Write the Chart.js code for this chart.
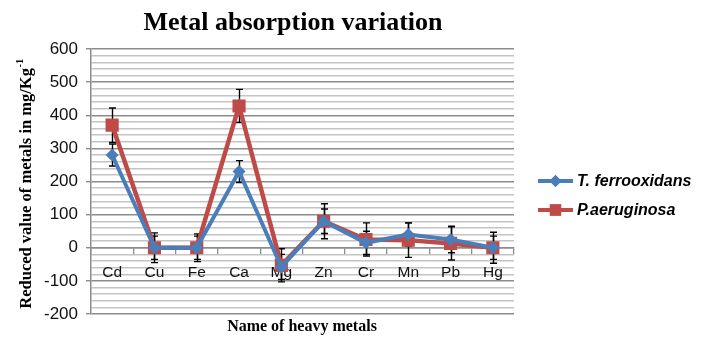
<!DOCTYPE html>
<html>
<head>
<meta charset="utf-8">
<script src="https://cdn.jsdelivr.net/npm/chart.js@4"></script>
<style>
html,body{margin:0;padding:0;background:#fff;}
#wrap{width:707px;height:345px;position:relative;}
</style>
</head>
<body>
<div id="wrap"><canvas id="c" width="707" height="345"></canvas></div>
<script>
const categories = ['Cd','Cu','Fe','Ca','Mg','Zn','Cr','Mn','Pb','Hg'];
const tFerroValues = [280, 0, 0, 230, -58, 80, 15, 40, 25, 0];
const pAeruValues  = [370, 0, 0, 428, -53, 80, 25, 23, 13, 0];
const tFerroErr = [33, 35, 35, 33, 38, 37, 35, 35, 40, 35];
const pAeruErr  = [52, 45, 42, 50, 50, 53, 50, 52, 50, 47];
const seriesNames = ['T. ferrooxidans', 'P.aeruginosa'];
const chartTitle = 'Metal absorption variation';
const xTitle = 'Name of heavy metals';
const yTitleMain = 'Reduced value of metals in mg/Kg';
const yTitleSup = '-1';

const BLUE = '#4A7EBB', RED = '#BE4B48';

const extras = {
  id: 'extras',
  beforeDatasetsDraw(chart) {
    const ctx = chart.ctx, y = chart.scales.y;
    const errs = [tFerroErr, pAeruErr];
    const vals = [tFerroValues, pAeruValues];
    ctx.save();
    ctx.strokeStyle = '#000';
    ctx.lineWidth = 1.4;
    for (let d = 0; d < 2; d++) {
      const meta = chart.getDatasetMeta(d);
      meta.data.forEach((pt, j) => {
        const x = Math.round(pt.x) + 0.5;
        const t = y.getPixelForValue(vals[d][j] + errs[d][j]);
        const b = y.getPixelForValue(vals[d][j] - errs[d][j]);
        ctx.beginPath();
        ctx.moveTo(x, t); ctx.lineTo(x, b);
        ctx.moveTo(x - 3.5, t); ctx.lineTo(x + 3.5, t);
        ctx.moveTo(x - 3.5, b); ctx.lineTo(x + 3.5, b);
        ctx.stroke();
      });
    }
    ctx.restore();
  },
  afterDraw(chart) {
    const ctx = chart.ctx;
    ctx.save();
    ctx.fillStyle = '#000';
    // title
    ctx.font = 'bold 26px "Liberation Serif", "Times New Roman", serif';
    ctx.textAlign = 'center';
    ctx.textBaseline = 'alphabetic';
    ctx.fillText(chartTitle, 293, 30);
    // x title
    ctx.font = 'bold 16px "Liberation Serif", "Times New Roman", serif';
    ctx.textBaseline = 'middle';
    ctx.fillText(xTitle, 302, 327);
    // y title
    ctx.save();
    ctx.translate(25, 184);
    ctx.rotate(-Math.PI / 2);
    const mainFont = 'bold 16.5px "Liberation Serif", "Times New Roman", serif';
    const supFont = 'bold 10.5px "Liberation Serif", "Times New Roman", serif';
    ctx.font = mainFont;
    const w1 = ctx.measureText(yTitleMain).width;
    ctx.font = supFont;
    const w2 = ctx.measureText(yTitleSup).width;
    const start = -(w1 + w2) / 2;
    ctx.textAlign = 'left';
    ctx.textBaseline = 'alphabetic';
    ctx.font = mainFont;
    ctx.fillText(yTitleMain, start, 6);
    ctx.font = supFont;
    ctx.fillText(yTitleSup, start + w1 + 0.5, -2);
    ctx.restore();
    // legend
    const items = [
      {name: seriesNames[0], color: BLUE, style: 'rectRot', r: 6, y: 181},
      {name: seriesNames[1], color: RED, style: 'rect', r: 8, y: 210}
    ];
    items.forEach(it => {
      ctx.strokeStyle = it.color;
      ctx.lineWidth = 4;
      ctx.beginPath();
      ctx.moveTo(538, it.y); ctx.lineTo(573, it.y);
      ctx.stroke();
      ctx.fillStyle = it.color;
      Chart.helpers.drawPoint(ctx, {pointStyle: it.style, radius: it.r, borderWidth: 0, rotation: 0}, 555.5, it.y);
      ctx.fill();
      ctx.fillStyle = '#000';
      ctx.font = 'bold italic 16px "Liberation Sans", Arial, sans-serif';
      ctx.textAlign = 'left';
      ctx.textBaseline = 'middle';
      ctx.fillText(it.name, 577, it.y + 1);
    });
    ctx.restore();
  }
};

new Chart(document.getElementById('c'), {
  type: 'line',
  data: {
    labels: categories,
    datasets: [
      {
        label: seriesNames[0],
        data: tFerroValues,
        borderColor: BLUE, backgroundColor: BLUE,
        borderWidth: 4,
        pointStyle: 'rectRot', pointRadius: 6.5, pointBorderWidth: 0,
        pointBackgroundColor: BLUE, pointHoverRadius: 6.5,
        tension: 0
      },
      {
        label: seriesNames[1],
        data: pAeruValues,
        borderColor: RED, backgroundColor: RED,
        borderWidth: 4.5,
        pointStyle: 'rect', pointRadius: 9.3, pointBorderWidth: 0,
        pointBackgroundColor: RED, pointHoverRadius: 9.3,
        tension: 0
      }
    ]
  },
  options: {
    responsive: false,
    animation: false,
    events: [],
    layout: {padding: {left: 0, right: 193, top: 49, bottom: 31}},
    plugins: {legend: {display: false}, title: {display: false}, tooltip: {enabled: false}},
    scales: {
      x: {
        type: 'category',
        position: {y: 0},
        offset: true,
        grid: {display: true, drawOnChartArea: false, drawTicks: true, tickLength: 6, offset: true, color: '#8c8c8c', lineWidth: 1.3},
        border: {display: true, color: '#8c8c8c', width: 1.5},
        ticks: {color: '#111', font: {family: '"Liberation Sans", Arial, sans-serif', size: 15.5}, padding: 10, maxRotation: 0, autoSkip: false}
      },
      y: {
        min: -200, max: 600,
        afterFit(s) { s.width = 91; },
        grid: {
          color: c => (c.tick && c.tick.value % 100 === 0) ? '#8c8c8c' : '#c4c4c4',
          tickColor: c => (c.tick && c.tick.value % 100 === 0) ? '#8c8c8c' : 'rgba(0,0,0,0)',
          lineWidth: 1.4,
          tickLength: 5
        },
        border: {display: true, color: '#8c8c8c', width: 1.5},
        ticks: {
          stepSize: 20, autoSkip: false, padding: 8,
          color: '#111',
          font: {family: '"Liberation Sans", Arial, sans-serif', size: 17},
          callback: v => (v % 100 === 0) ? String(v) : ''
        }
      }
    }
  },
  plugins: [extras]
});
</script>
</body>
</html>
